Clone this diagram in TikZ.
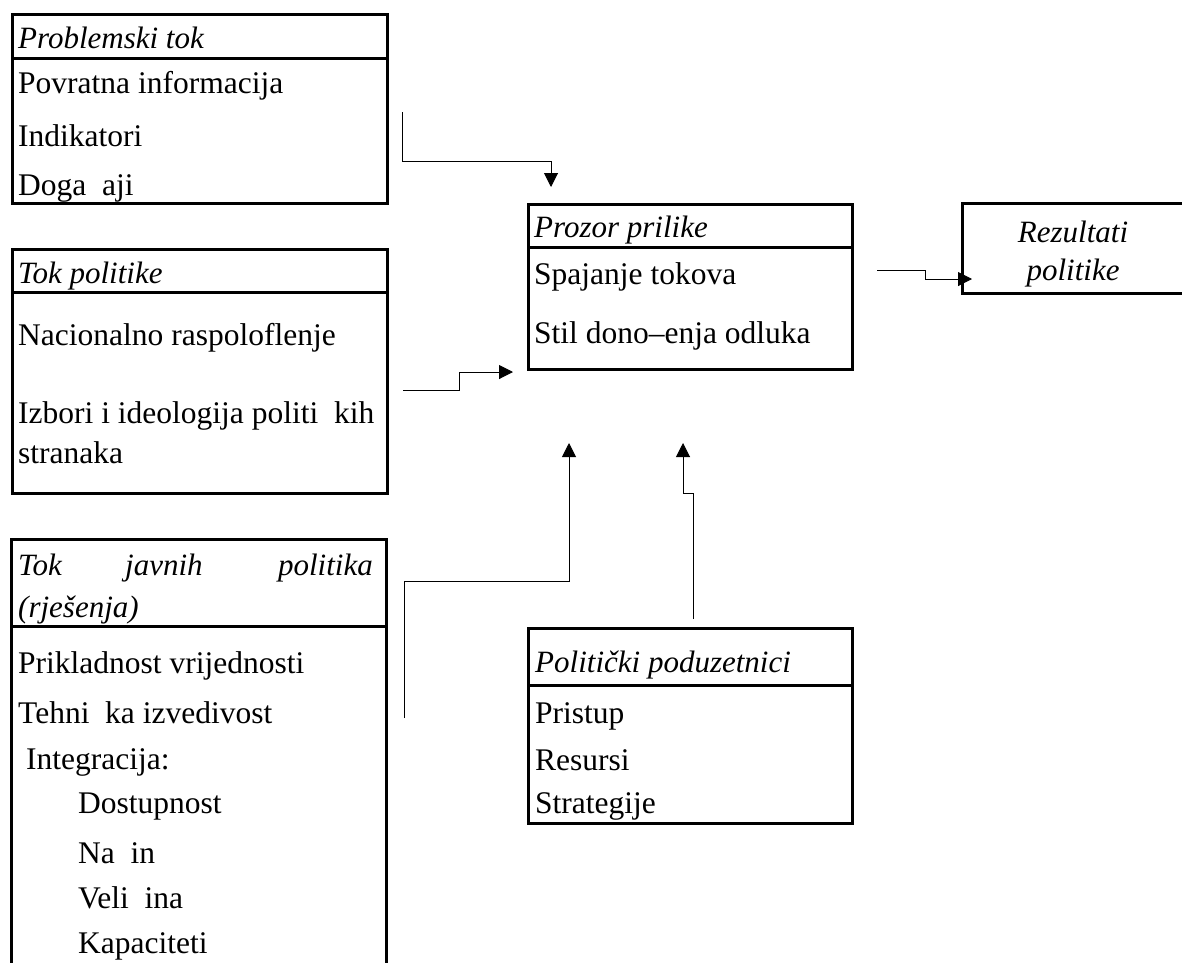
\documentclass[tikz,border=0pt]{standalone}
\usepackage{fontspec}
\setmainfont{Liberation Serif}
\usetikzlibrary{arrows.meta}
\begin{document}
\begin{tikzpicture}[x=1pt,y=-1pt,
  boxline/.style={line width=3pt},
  framebox/.style={draw, line width=3pt, anchor=north west, inner sep=0pt},
  conn/.style={line width=1pt, -{Triangle[length=14pt,width=14pt]}},
  txt/.style={anchor=base west, inner sep=0pt, font=\fontsize{31.5}{36}\selectfont},
  hdr/.style={anchor=base west, inner sep=0pt, font=\fontsize{31}{36}\selectfont\itshape}]
\useasboundingbox (0,0) rectangle (1182,962);

% Problemski tok
\node[framebox, minimum width=375pt, minimum height=189pt] (b1) at (11,13) {};
\draw[boxline] (11,58) -- (386,58);
\node[hdr] (b1h) at (18,48) {Problemski tok};
\node[txt] (b1a) at (18,93) {Povratna informacija};
\node[txt] (b1b) at (18,146) {Indikatori};
\node[txt] (b1c) at (18,195) {Doga\hspace{0.5em}aji};

% Tok politike
\node[framebox, minimum width=375pt, minimum height=244pt] (b2) at (11,248) {};
\draw[boxline] (11,292) -- (386,292);
\node[hdr] (b2h) at (18,283) {Tok politike};
\node[txt] (b2a) at (18,345) {Nacionalno raspoloflenje};
\node[txt] (b2b) at (18,423) {Izbori i ideologija politi\hspace{0.5em}kih};
\node[txt] (b2c) at (18,463) {stranaka};

% Tok javnih politika (open at bottom)
\draw[boxline] (11,970) -- (11,539) -- (386,539) -- (386,970);
\draw[boxline] (11,626) -- (386,626);
\node[hdr] (b3h1) at (18,575) {Tok};
\node[hdr] (b3h2) at (125,575) {javnih};
\node[hdr, anchor=base east] (b3h3) at (373,575) {politika};
\node[hdr] (b3h4) at (18,617) {(rješenja)};
\node[txt] (b3a) at (18,673) {Prikladnost vrijednosti};
\node[txt] (b3b) at (18,723) {Tehni\hspace{0.5em}ka izvedivost};
\node[txt] (b3c) at (26,769) {Integracija:};
\node[txt] (b3d) at (78,813) {Dostupnost};
\node[txt] (b3e) at (78,863) {Na\hspace{0.5em}in};
\node[txt] (b3f) at (78,908) {Veli\hspace{0.5em}ina};
\node[txt] (b3g) at (78,953) {Kapaciteti};

% Prozor prilike
\node[framebox, minimum width=324pt, minimum height=165pt] (b4) at (527,203) {};
\draw[boxline] (527,247) -- (851,247);
\node[hdr] (b4h) at (534,237) {Prozor prilike};
\node[txt] (b4a) at (534,284) {Spajanje tokova};
\node[txt] (b4b) at (534,343) {Stil dono–enja odluka};

% Politicki poduzetnici
\node[framebox, minimum width=324pt, minimum height=195pt] (b5) at (527,627) {};
\draw[boxline] (527,685) -- (851,685);
\node[hdr] (b5h) at (535,672) {Politički poduzetnici};
\node[txt] (b5a) at (535,723) {Pristup};
\node[txt] (b5b) at (535,770) {Resursi};
\node[txt] (b5c) at (535,813) {Strategije};

% Rezultati politike (open at right)
\draw[boxline] (1190,203) -- (962,203) -- (962,293) -- (1190,293);
\node[hdr, anchor=base] (b6a) at (1073,242) {Rezultati};
\node[hdr, anchor=base] (b6b) at (1073,280) {politike};

% connector ends
\coordinate (s1) at (402,112);
\coordinate (e1) at (551,187);
\coordinate (s2) at (403,390);
\coordinate (e2) at (513,372);
\coordinate (s3) at (404,718);
\coordinate (e3) at (569,443);
\coordinate (s4) at (693,619);
\coordinate (e4) at (683,443);
\coordinate (s5) at (877,270);
\coordinate (e5) at (972,279);

\draw[conn] (s1) -- (s1 |- 0,161) -- (e1 |- 0,161) -- (e1);
\draw[conn] (s2) -- (459,390) -- (459,372) -- (e2);
\draw[conn] (s3) -- (s3 |- 0,581) -- (e3 |- 0,581) -- (e3);
\draw[conn] (s4) -- (s4 |- 0,493) -- (e4 |- 0,493) -- (e4);
\draw[conn] (s5) -- (925,270) -- (925,279) -- (e5);
\end{tikzpicture}
\end{document}
